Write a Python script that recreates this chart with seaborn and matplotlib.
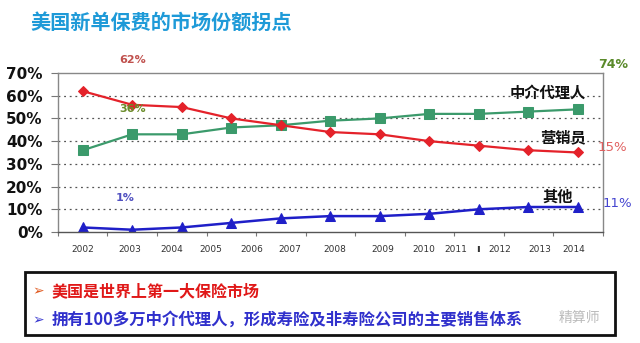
import matplotlib
matplotlib.use("Agg")
import matplotlib.pyplot as plt
import seaborn as sns
import pandas as pd
from matplotlib.patches import Rectangle

sns.set_theme(style="white")
plt.rcParams['font.family'] = ['Noto Sans CJK SC', 'DejaVu Sans']

# ---- data ----
points = list(range(11))
agents = [36, 43, 43, 46, 47, 49, 50, 52, 52, 53, 54]      # 中介代理人
sales = [62, 56, 55, 50, 47, 44, 43, 40, 38, 36, 35]       # 营销员
others = [2, 1, 2, 4, 6, 7, 7, 8, 10, 11, 11]              # 其他
year_labels = ["2002", "2003", "2004", "2005", "2006", "2007", "2008",
               "2009", "2010", "2011", "2012", "2013", "2014"]
y_ticks = [0, 10, 20, 30, 40, 50, 60, 70]

df = pd.DataFrame({"x": points, "agents": agents, "sales": sales, "others": others})

fig = plt.figure(figsize=(6.4, 3.43), dpi=100)
ax = fig.add_axes([0.0906, 0.3236, 0.851, 0.4636])

green = "#3b9a6b"
red = "#e4222a"
blue = "#1f1fc8"

sns.lineplot(data=df, x="x", y="agents", ax=ax, color=green, marker="s",
             markersize=7, markeredgecolor=green, linewidth=1.6)
sns.lineplot(data=df, x="x", y="sales", ax=ax, color=red, marker="D",
             markersize=5.5, markeredgecolor=red, linewidth=1.6)
sns.lineplot(data=df, x="x", y="others", ax=ax, color=blue, marker="^",
             markersize=7, markeredgecolor=blue, linewidth=1.8)

ax.set_xlim(-0.5, 10.5)
ax.set_ylim(0, 70)
ax.set_yticks(y_ticks)
ax.set_yticklabels([f"{v}%" for v in y_ticks], fontsize=11, fontweight="heavy",
                   family=["DejaVu Sans"], color="#111111")
for v in y_ticks[1:-1]:
    ax.axhline(v, color="#555555", linestyle=(0, (1.5, 3)), linewidth=0.9, zorder=0)

# x: minor ticks at category boundaries, year labels at their own spots
ax.set_xticks([i - 0.5 for i in range(12)], minor=True)
label_px = [84, 131, 173, 212, 253, 291, 335, 383, 424, 456, 500, 540, 574]
label_pos = [(p - 84) / 49.4 for p in label_px]
ax.set_xticks(label_pos)
ax.set_xticklabels(year_labels, fontsize=6.5, color="#333333", family=["DejaVu Sans"])
ax.tick_params(axis="x", which="major", length=0, pad=9)
ax.tick_params(axis="x", which="minor", length=3, width=0.8, color="#777777",
               direction="out", bottom=True)
ax.tick_params(axis="y", length=5, width=0.8, color="#777777", left=True, pad=6)
ax.set_xlabel("")
ax.set_ylabel("")
for s in ax.spines.values():
    s.set_color("#888888")
    s.set_linewidth(1.0)
ax.spines["bottom"].set_color("#555555")
ax.text((478 - 84) / 49.4, -7.5, "ı", fontsize=8, color="#333333",
        ha="center", va="center", family=["DejaVu Sans"], fontweight="bold")

# annotations
ax.text(1.0, 74.5, "62%", color="#c0504d", fontsize=8, ha="center", fontweight="bold",
        family=["DejaVu Sans"])
ax.text(1.0, 53.0, "36%", color="#6a8c2a", fontsize=8, ha="center", fontweight="bold",
        family=["DejaVu Sans"])
ax.text(0.85, 13.5, "1%", color="#5050c0", fontsize=8, ha="center", fontweight="bold",
        family=["DejaVu Sans"])
ax.text(10.4, 72, "74%", color="#5a8a2a", fontsize=9, ha="left", fontweight="bold",
        family=["DejaVu Sans"], clip_on=False)
ax.text(10.4, 37, "15%", color="#e06060", fontsize=9.5, ha="left", va="center",
        family=["DejaVu Sans"], clip_on=False)
ax.text(10.5, 12.5, "11%", color="#4545d0", fontsize=9.5, ha="left", va="center",
        family=["DejaVu Sans"], clip_on=False)
ax.text(9.4, 61.5, "中介代理人", color="#111111", fontsize=11, ha="center",
        va="center", fontweight="bold")
ax.text(9.7, 41.5, "营销员", color="#111111", fontsize=11, ha="center",
        va="center", fontweight="bold")
ax.text(9.6, 15.5, "其他", color="#111111", fontsize=11, ha="center",
        va="center", fontweight="bold")

# title
fig.text(0.047, 0.935, "美国新单保费的市场份额拐点", color="#1e9ad8", fontsize=14.5,
         fontweight="bold", va="center", ha="left")

# bottom box
box = Rectangle((25 / 640, 1 - 335 / 343), 590 / 640, 63 / 343, transform=fig.transFigure,
                fill=False, edgecolor="#111111", linewidth=2.0)
fig.patches.append(box)
fig.text(0.051, 1 - 291 / 343, "➢", color="#e05a20", fontsize=10, va="center",
         family=["DejaVu Sans"])
fig.text(0.081, 1 - 291 / 343, "美国是世界上第一大保险市场", color="#e01818",
         fontsize=11.5, fontweight="bold", va="center")
fig.text(0.051, 1 - 320 / 343, "➢", color="#3a3ad0", fontsize=10, va="center",
         family=["DejaVu Sans"])
fig.text(0.081, 1 - 320 / 343, "拥有100多万中介代理人，形成寿险及非寿险公司的主要销售体系",
         color="#3030cc", fontsize=11.8, fontweight="bold", va="center")
fig.text(0.905, 1 - 318 / 343, "精算师", color="#bbbbbb", fontsize=10,
         va="center", ha="center")

fig.savefig("out.png", dpi=100, facecolor="white")
